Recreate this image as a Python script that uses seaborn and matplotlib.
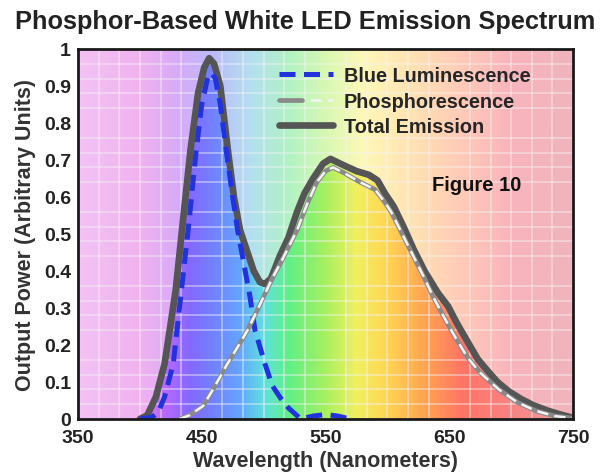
import numpy as np
import seaborn as sns
import matplotlib.pyplot as plt
from matplotlib.colors import to_rgb
from matplotlib.ticker import MultipleLocator
from matplotlib.legend_handler import HandlerTuple

# Values
blue_nm = [400, 410, 415, 420, 427, 433, 439, 445, 450, 455, 458, 461, 465, 470,
           475, 479, 484, 489, 493, 501, 507, 514, 520, 530, 540, 550, 560, 570]
blue_val = [0.0, 0.005, 0.02, 0.06, 0.15, 0.33, 0.51, 0.71, 0.85, 0.925, 0.935, 0.92,
            0.85, 0.72, 0.60, 0.51, 0.42, 0.33, 0.24, 0.15, 0.09, 0.055, 0.03, 0.0,
            0.008, 0.012, 0.008, 0.0]

phos_nm = [432, 440, 451, 460, 470, 480, 487, 495, 507, 515, 527, 535, 543, 550,
           556, 565, 578, 590, 597, 603, 612, 621, 630, 637, 645, 655, 665, 675,
           690, 705, 720, 735, 750]
phos_val = [0.0, 0.01, 0.035, 0.085, 0.145, 0.20, 0.24, 0.295, 0.38, 0.43, 0.51, 0.58,
            0.64, 0.67, 0.68, 0.665, 0.64, 0.62, 0.59, 0.56, 0.50, 0.44, 0.38, 0.33,
            0.28, 0.22, 0.165, 0.125, 0.08, 0.045, 0.022, 0.008, 0.002]

total_nm = [400, 406, 413, 420, 425, 429, 434, 441, 447, 452, 456, 460, 465, 471,
            476, 481, 487, 492, 497, 501, 506, 513, 520, 527, 533, 540, 548, 554,
            562, 575, 585, 592, 598, 605, 613, 621, 630, 641, 649, 656, 662, 673,
            681, 689, 698, 708, 718, 730, 740, 748]
total_val = [0.0, 0.01, 0.06, 0.15, 0.26, 0.35, 0.51, 0.73, 0.88, 0.95, 0.975, 0.96,
             0.90, 0.73, 0.60, 0.51, 0.45, 0.40, 0.37, 0.365, 0.38, 0.44, 0.49, 0.56,
             0.61, 0.65, 0.69, 0.703, 0.69, 0.67, 0.66, 0.645, 0.61, 0.575, 0.52,
             0.46, 0.40, 0.34, 0.305, 0.26, 0.225, 0.162, 0.13, 0.10, 0.075, 0.054,
             0.037, 0.022, 0.012, 0.005]

x_ticks = [350, 450, 550, 650, 750]
y_ticks = [0, 0.1, 0.2, 0.3, 0.4, 0.5, 0.6, 0.7, 0.8, 0.9, 1]
y_tick_labels = ["0", "0.1", "0.2", "0.3", "0.4", "0.5", "0.6", "0.7", "0.8", "0.9", "1"]

# spectrum colour stops (pastel background / saturated area under the curve)
pastel_stops = [(350, "#f4c2f4"), (400, "#f0b2f0"), (430, "#d8aaf8"), (460, "#bcbcf8"),
                (490, "#b4e0f0"), (520, "#b2f2c4"), (550, "#d8f8b2"), (580, "#fff8b8"),
                (620, "#ffe2b4"), (660, "#ffcab8"), (700, "#f8b4bc"), (750, "#f0b4bc")]
vivid_stops = [(350, "#f0a0f0"), (400, "#e080f0"), (420, "#b868ff"), (440, "#8468ff"),
               (460, "#7084ff"), (480, "#64a4ff"), (500, "#60e0e0"), (520, "#60f084"),
               (550, "#a8f060"), (575, "#f2f060"), (600, "#ffd454"), (630, "#ffa452"),
               (660, "#ff7464"), (700, "#f88484"), (750, "#f0a0a0")]


def gradient(stops, n=400):
    xs = np.linspace(350, 750, n)
    pos = [s[0] for s in stops]
    rgb = np.array([to_rgb(s[1]) for s in stops])
    img = np.stack([np.interp(xs, pos, rgb[:, k]) for k in range(3)], axis=-1)
    return img[np.newaxis, :, :]


sns.set_theme(style="white")
plt.rcParams["font.family"] = ["Liberation Sans", "DejaVu Sans"]
plt.rcParams["font.weight"] = "bold"

fig = plt.figure(figsize=(6.07, 4.77), dpi=100)
ax = fig.add_axes([0.1285, 0.1195, 0.8155, 0.7757])

ax.imshow(gradient(pastel_stops), extent=[350, 750, 0, 1], aspect="auto",
          origin="lower", zorder=0)
under = ax.fill_between(total_nm, total_val, 0, facecolor="none", edgecolor="none")
vivid = ax.imshow(gradient(vivid_stops), extent=[350, 750, 0, 1], aspect="auto",
                  origin="lower", zorder=0.5)
vivid.set_clip_path(under.get_paths()[0], ax.transData)

# fine grid
ax.xaxis.set_minor_locator(MultipleLocator(400 / 24))
ax.yaxis.set_minor_locator(MultipleLocator(0.04))
ax.grid(which="minor", color="#f4f4f4", alpha=0.5, lw=1.2, zorder=1)
ax.grid(which="major", visible=False)
ax.set_axisbelow(False)

# curves
sns.lineplot(x=blue_nm, y=blue_val, ax=ax, color="#2233dd", lw=3.6,
             estimator=None, sort=False, zorder=4)
blue_line = ax.lines[-1]
blue_line.set_dashes([3.2, 1.7])

sns.lineplot(x=total_nm, y=total_val, ax=ax, color="#555555", lw=4.8,
             estimator=None, sort=False, zorder=3)
total_line = ax.lines[-1]

sns.lineplot(x=phos_nm, y=phos_val, ax=ax, color="#8a8a8a", lw=3.4,
             estimator=None, sort=False, zorder=5)
phos_under = ax.lines[-1]
sns.lineplot(x=phos_nm, y=phos_val, ax=ax, color="#f4f4f4", lw=1.8,
             estimator=None, sort=False, zorder=6)
phos_line = ax.lines[-1]
phos_line.set_dashes([4.5, 2.5])

ax.set_xlim(350, 750)
ax.set_ylim(0, 1)
ax.set_xticks(x_ticks)
ax.set_yticks(y_ticks)
ax.set_yticklabels(y_tick_labels)
ax.tick_params(which="major", direction="in", length=8, width=1.8, color="#1a1a1a",
               labelsize=14, labelcolor="#222222")
ax.tick_params(which="minor", length=0)
ax.tick_params(axis="x", pad=7)
ax.tick_params(axis="y", pad=5)
for lab in ax.get_xticklabels() + ax.get_yticklabels():
    lab.set_fontweight("bold")
for sp in ax.spines.values():
    sp.set_color("#1a1a1a")
    sp.set_linewidth(2)
    sp.set_zorder(10)

ax.set_xlabel("Wavelength (Nanometers)", fontsize=15.5, fontweight="bold",
              color="#333333", labelpad=3)
ax.set_ylabel("Output Power (Arbitrary Units)", fontsize=15.5, fontweight="bold",
              color="#333333", labelpad=6)
fig.text(0.502, 0.953, "Phosphor-Based White LED Emission Spectrum", ha="center",
         va="center", fontsize=18.3, fontweight="bold", color="#222222")
ax.text(672, 0.635, "Figure 10", ha="center", va="center", fontsize=14.5,
        fontweight="bold", color="#111111", zorder=8)

ax.legend([blue_line, (phos_under, phos_line), total_line],
          ["Blue Luminescence", "Phosphorescence", "Total Emission"],
          handler_map={tuple: HandlerTuple(ndivide=None)},
          loc="upper left", bbox_to_anchor=(0.39, 0.975), frameon=False,
          prop={"size": 14.3, "weight": "bold"}, handlelength=2.7,
          handletextpad=0.55, labelspacing=0.33, borderaxespad=0)

fig.savefig("out.png", dpi=100)
